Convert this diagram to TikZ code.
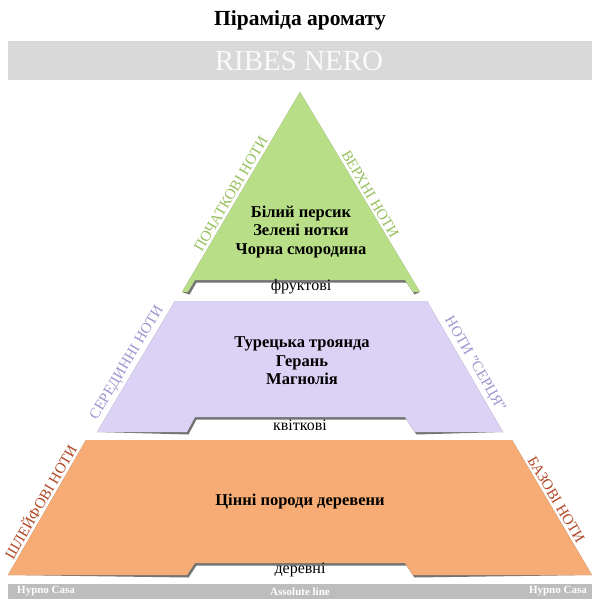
\documentclass[tikz,border=0pt]{standalone}
\usepackage{fontspec}
\setmainfont{Liberation Serif}
\usetikzlibrary{calc}

\definecolor{leafgreen}{RGB}{184,222,136}
\definecolor{leafink}{RGB}{150,192,92}
\definecolor{lilac}{RGB}{220,210,246}
\definecolor{lilacink}{RGB}{160,150,208}
\definecolor{apricot}{RGB}{246,172,116}
\definecolor{apricotink}{RGB}{178,72,38}
\definecolor{bannergray}{RGB}{217,217,217}
\definecolor{footgray}{RGB}{189,189,189}
\definecolor{shadowgray}{RGB}{115,115,115}

\tikzset{
  sidenote/.style={font=\fontsize{15}{15}\selectfont, anchor=south, inner sep=2.5pt},
  notetext/.style={font=\bfseries\fontsize{16.5}{18.5}\selectfont, align=center},
  basename/.style={font=\fontsize{16}{16}\selectfont, inner sep=1pt},
  footlabel/.style={font=\bfseries\fontsize{11}{11}\selectfont, text=white, inner sep=1pt},
}

\begin{document}
\begin{tikzpicture}[x=1pt, y=-1pt]
	\useasboundingbox (0,0) rectangle (600,600);
	\fill[white] (0,0) rectangle (600,600);
	% заголовок і назва
	\node[font=\bfseries\fontsize{21.5}{21.5}\selectfont] (title) at (300,20) {Піраміда аромату};
	\fill[bannergray] (8,41) rectangle (592,80);
	\node[text=white!98!black, font=\fontsize{29}{29}\selectfont] (brand) at (299,61) {RIBES NERO};
	% кути ярусів
	\coordinate (g-top) at (300,92);   \coordinate (g-right) at (420,292); \coordinate (g-left) at (182,292);
	\coordinate (l-tl) at (175,301);   \coordinate (l-tr) at (427,301);
	\coordinate (l-br) at (503,432);   \coordinate (l-bl) at (97,432);
	\coordinate (o-tl) at (86,440);    \coordinate (o-tr) at (512,440);
	\coordinate (o-br) at (592,575);   \coordinate (o-bl) at (8,575);
	% тінь під ярусами
	\begin{scope}[shift={(1.5,2.5)}]
		\fill[shadowgray] (g-top) -- (g-right) -- (413,292) -- (405,280) -- (195,280) -- (188,292) -- (g-left) -- cycle;
		\fill[shadowgray] (l-tl) -- (l-tr) -- (l-br) -- (415,432) -- (405,417) -- (195,417) -- (187,432) -- (l-bl) -- cycle;
		\fill[shadowgray] (o-tl) -- (o-tr) -- (o-br) -- (413,575) -- (405,563) -- (195,563) -- (187,575) -- (o-bl) -- cycle;
	\end{scope}
	% яруси
	\fill[leafgreen] (g-top) -- (g-right) -- (413,292) -- (405,280) -- (195,280) -- (188,292) -- (g-left) -- cycle;
	\fill[lilac] (l-tl) -- (l-tr) -- (l-br) -- (415,432) -- (405,417) -- (195,417) -- (187,432) -- (l-bl) -- cycle;
	\fill[apricot] (o-tl) -- (o-tr) -- (o-br) -- (413,575) -- (405,563) -- (195,563) -- (187,575) -- (o-bl) -- cycle;
	% ноти
	\node[notetext] (fruit-notes) at (301,232) {Білий персик\\Зелені нотки\\Чорна смородина};
	\node[notetext] (flower-notes) at (302,361) {Турецька троянда\\Герань\\Магнолія};
	\node[notetext] (wood-notes) at (300,502) {Цінні породи деревени};
	\node[basename] (fruit-base) at (301,287) {фруктові};
	\node[basename] (flower-base) at (300,425) {квіткові};
	\node[basename] (wood-base) at (300,570) {деревні};
	% підписи вздовж схилів
	\node[sidenote, text=leafink, rotate=59.5] (fruit-left) at ($(g-left)!0.47!(g-top)$) {ПОЧАТКОВІ НОТИ};
	\node[sidenote, text=leafink, rotate=-59.5] (fruit-right) at ($(g-top)!0.53!(g-right)$) {ВЕРХНІ НОТИ};
	\node[sidenote, text=lilacink, rotate=59.2] (flower-left) at ($(l-bl)!0.49!(l-tl)$) {СЕРЕДИННІ НОТИ};
	\node[sidenote, text=lilacink, rotate=-59.8] (flower-right) at ($(l-tr)!0.52!(l-br)$) {НОТИ "СЕРЦЯ"};
	\node[sidenote, text=apricotink, rotate=60] (wood-left) at ($(o-bl)!0.51!(o-tl)$) {ШЛЕЙФОВІ НОТИ};
	\node[sidenote, text=apricotink, rotate=-59.3] (wood-right) at ($(o-tr)!0.47!(o-br)$) {БАЗОВІ НОТИ};
	% нижня смуга
	\fill[footgray] (8,584) rectangle (592,599);
	\node[footlabel, anchor=west] (foot-left) at (16,591.5) {Hypno Casa};
	\node[footlabel] (foot-mid) at (300,591.5) {Assolute line};
	\node[footlabel, anchor=east] (foot-right) at (588,591.5) {Hypno Casa};
\end{tikzpicture}
\end{document}
